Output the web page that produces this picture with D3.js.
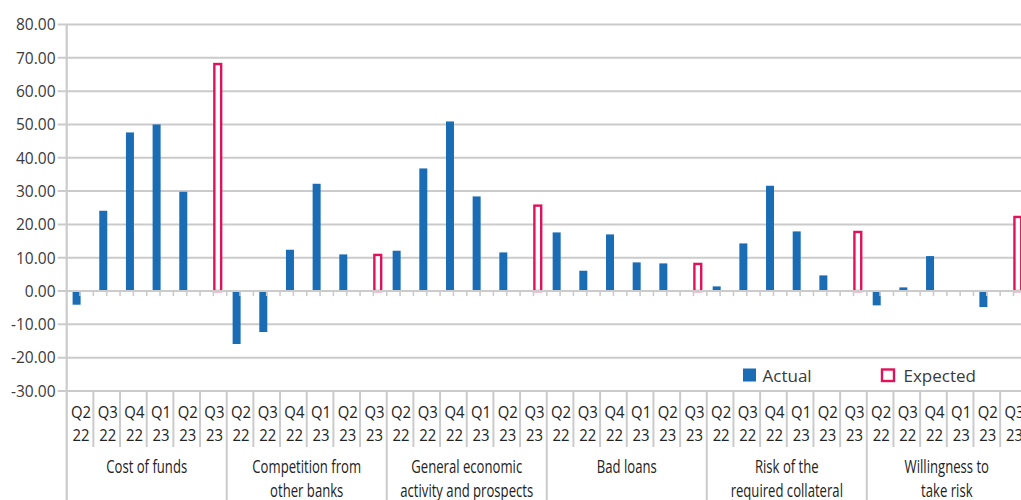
<!DOCTYPE html>
<html>
<head>
<meta charset="utf-8">
<script src="https://cdn.jsdelivr.net/npm/d3@7"></script>
<style>
  html, body { margin: 0; padding: 0; background: #fff; overflow: hidden; }
  svg { display: block; }
</style>
</head>
<body>
<svg id="chart" width="1021" height="500"></svg>
<script>
// Factors affecting credit standards, each split into quarters
const factors = [
  ["Cost of funds"],
  ["Competition from", "other banks"],
  ["General economic", "activity and prospects"],
  ["Bad loans"],
  ["Risk of the", "required collateral"],
  ["Willingness to", "take risk"]
];
const quarters = ["Q2 22", "Q3 22", "Q4 22", "Q1 23", "Q2 23", "Q3 23"];
const seriesNames = ["Actual", "Expected"];

// Actual net percentages (Q2 22 .. Q2 23), one row per factor
const actualValues = [
  [-4.1, 24.1, 47.6, 50.0, 29.8],
  [-15.9, -12.3, 12.4, 32.2, 11.0],
  [12.1, 36.8, 50.9, 28.4, 11.6],
  [17.6, 6.1, 17.0, 8.6, 8.3],
  [1.4, 14.3, 31.6, 17.9, 4.7],
  [-4.3, 1.1, 10.5, 0.0, -4.8]
];
// Expected net percentages for Q3 23, one per factor
const expectedValues = [68.5, 11.2, 26.0, 8.5, 18.1, 22.6];

const yTicks = [-30, -20, -10, 0, 10, 20, 30, 40, 50, 60, 70, 80];

const W = 1021, H = 500;
const plotLeft = 66.7;
const catW = 26.67;
const gridColor = "#cbcbcb";
const blue = "#1a6db5";
const pink = "#e2115b";
const textColor = "#3a3a3a";
const labelFont = "'Open Sans', 'Noto Sans', sans-serif";

// Flatten into one row per factor/quarter
const rows = [];
factors.forEach((f, gi) => {
  quarters.forEach((q, qi) => {
    rows.push({
      key: gi + "|" + q,
      group: gi,
      quarter: q,
      actual: qi < 5 ? actualValues[gi][qi] : null,
      expected: qi === 5 ? expectedValues[gi] : null
    });
  });
});

const svg = d3.select("#chart");

const x0 = d3.scaleBand()
  .domain(rows.map(d => d.key))
  .range([plotLeft, plotLeft + rows.length * catW]);
const xs = d3.scaleBand()
  .domain(seriesNames)
  .range([5.9, 21.9]);
const y = d3.scaleLinear().domain([-30, 80]).range([391, 24.5]);

// Horizontal gridlines with short left ticks
svg.append("g")
  .selectAll("line")
  .data(yTicks.filter(t => t !== 0))
  .join("line")
  .attr("x1", plotLeft - 9).attr("x2", W)
  .attr("y1", d => y(d)).attr("y2", d => y(d))
  .attr("stroke", gridColor).attr("stroke-width", 2);

// Y tick labels (plain hyphen for negatives)
const fmt = d3.format(".2f");
svg.append("g")
  .selectAll("text")
  .data(yTicks)
  .join("text")
  .attr("x", 55.5)
  .attr("y", d => y(d) + 5.8)
  .attr("text-anchor", "end")
  .attr("font-family", labelFont)
  .attr("font-size", 15.5)
  .attr("fill", textColor)
  .text(d => fmt(d).replace("\u2212", "-"));

// Actual bars
svg.append("g")
  .selectAll("rect")
  .data(rows.filter(d => d.actual !== null && d.actual !== 0))
  .join("rect")
  .attr("x", d => x0(d.key) + xs("Actual"))
  .attr("width", xs.bandwidth())
  .attr("y", d => y(Math.max(0, d.actual)))
  .attr("height", d => Math.abs(y(d.actual) - y(0)))
  .attr("fill", blue);

// Expected bars (outlined)
svg.append("g")
  .selectAll("rect")
  .data(rows.filter(d => d.expected !== null))
  .join("rect")
  .attr("x", d => x0(d.key) + xs("Expected") + 0.4)
  .attr("width", xs.bandwidth() - 1.2)
  .attr("y", d => y(Math.max(0, d.expected)) + 1.2)
  .attr("height", d => Math.abs(y(d.expected) - y(0)) - 1.2)
  .attr("fill", "#fff")
  .attr("stroke", pink)
  .attr("stroke-width", 2.4);

// Category axis at zero with small ticks
svg.append("line")
  .attr("x1", plotLeft - 9).attr("x2", W)
  .attr("y1", y(0)).attr("y2", y(0))
  .attr("stroke", gridColor).attr("stroke-width", 2);
const halfTicks = d3.range(1, rows.length * 2 + 1).map(k => plotLeft + k * catW / 2);
svg.append("g")
  .selectAll("line")
  .data(halfTicks)
  .join("line")
  .attr("x1", d => d).attr("x2", d => d)
  .attr("y1", y(0)).attr("y2", y(0) + 5)
  .attr("stroke", gridColor).attr("stroke-width", 1.6);

// Vertical value axis line
svg.append("line")
  .attr("x1", plotLeft).attr("x2", plotLeft)
  .attr("y1", y(80)).attr("y2", H)
  .attr("stroke", gridColor).attr("stroke-width", 2.2);

// Label box separators: short between quarters, full between factors
const boundaries = d3.range(1, rows.length + 1).map(k => ({ k, x: plotLeft + k * catW }));
svg.append("g")
  .selectAll("line")
  .data(boundaries)
  .join("line")
  .attr("x1", d => d.x).attr("x2", d => d.x)
  .attr("y1", y(-30))
  .attr("y2", d => d.k % 6 === 0 ? H : 447)
  .attr("stroke", gridColor).attr("stroke-width", 2);

// Quarter labels, slightly condensed
const qLabels = svg.append("g")
  .selectAll("g")
  .data(rows)
  .join("g")
  .attr("transform", d => `translate(${x0(d.key) + catW / 2 + 1},0) scale(0.9,1)`);
qLabels.append("text")
  .attr("text-anchor", "middle")
  .attr("font-family", labelFont)
  .attr("font-size", 16.5)
  .attr("fill", "#222")
  .selectAll("tspan")
  .data(d => d.quarter.split(" ").map((part, i) => ({ part, i })))
  .join("tspan")
  .attr("x", 0)
  .attr("y", d => d.i === 0 ? 418.5 : 441)
  .text(d => d.part);

// Factor labels, condensed
const fLabels = svg.append("g")
  .selectAll("g")
  .data(factors)
  .join("g")
  .attr("transform", (d, i) => `translate(${x0(i + "|" + quarters[0]) + 3 * catW},0) scale(0.75,1)`);
fLabels.append("text")
  .attr("text-anchor", "middle")
  .attr("font-family", labelFont)
  .attr("font-size", 17.5)
  .attr("fill", "#222")
  .selectAll("tspan")
  .data(d => d.map((line, li) => ({ line, li })))
  .join("tspan")
  .attr("x", 0)
  .attr("y", d => 473 + d.li * 24.5)
  .text(d => d.line);

// Legend
const legend = svg.append("g").attr("font-family", labelFont).attr("font-size", 17).attr("fill", textColor);
legend.append("rect")
  .attr("x", 743).attr("y", 368.5).attr("width", 13).attr("height", 13)
  .attr("fill", blue);
legend.append("text").attr("x", 762.5).attr("y", 381.5).text(seriesNames[0]);
legend.append("rect")
  .attr("x", 882).attr("y", 369.5).attr("width", 12).attr("height", 11.5)
  .attr("fill", "#fff").attr("stroke", pink).attr("stroke-width", 2.4);
legend.append("text").attr("x", 903.5).attr("y", 381.5).text(seriesNames[1]);
</script>
</body>
</html>
